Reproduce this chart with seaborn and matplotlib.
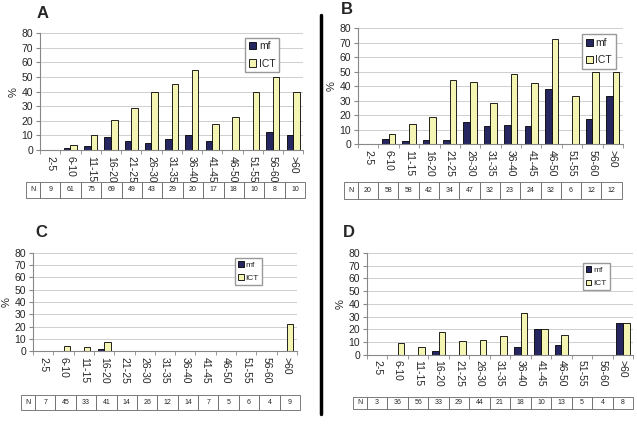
import numpy as np
import pandas as pd
import matplotlib
matplotlib.use("Agg")
import matplotlib.pyplot as plt
from matplotlib.lines import Line2D
import seaborn as sns

age_groups = ["2-5", "6-10", "11-15", "16-20", "21-25", "26-30", "31-35",
              "36-40", "41-45", "46-50", "51-55", "56-60", ">60"]

# panel A
a_mf = [0, 1.5, 3, 9, 6.5, 5, 7.5, 10.5, 6, 0, 0, 12.5, 10]
a_ict = [0, 3.5, 10, 20.5, 29, 40, 45, 55, 17.5, 22.5, 40, 50, 40]
a_n = [9, 61, 75, 69, 49, 43, 29, 20, 17, 18, 10, 8, 10]

# panel B
b_mf = [0, 3.5, 2, 2.5, 3, 15, 12.5, 13, 12.5, 38, 0, 17, 33]
b_ict = [0, 7, 13.5, 19, 44, 43, 28, 48, 42, 72.5, 33, 50, 50]
b_n = [20, 58, 58, 42, 34, 47, 32, 23, 24, 32, 6, 12, 12]

# panel C
c_mf = [0, 0, 0, 2, 0, 0, 0, 0, 0, 0, 0, 0, 0]
c_ict = [0, 4, 3, 7, 0, 0, 0, 0, 0, 0, 0, 0, 22]
c_n = [7, 45, 33, 41, 14, 26, 12, 14, 7, 5, 6, 4, 9]

# panel D
d_mf = [0, 0, 0, 3, 0, 0, 0, 6, 20, 8, 0, 0, 25]
d_ict = [0, 9, 6, 18, 11, 12, 14.5, 33, 20, 15.5, 0, 0, 25]
d_n = [3, 36, 56, 33, 29, 44, 21, 18, 10, 13, 5, 4, 8]

sns.set_style("white")
plt.rcParams['font.family'] = ['Liberation Sans', 'DejaVu Sans']

palette = {"mf": "#1c1c6b", "ICT": "#ffffa8"}

fig = plt.figure(figsize=(6.37, 4.25), dpi=100)

# (label, mf, ict, n, axes rect, table rect, legend anchor, label pos, legend font)
panels = [
    ("A", a_mf, a_ict, a_n, [0.063, 0.647, 0.413, 0.275], [0.041, 0.534, 0.438, 0.038],
     (0.78, 0.96), (0.058, 0.985), 7.5),
    ("B", b_mf, b_ict, b_n, [0.562, 0.661, 0.416, 0.273], [0.540, 0.532, 0.436, 0.040],
     (0.845, 0.945), (0.535, 0.995), 7.5),
    ("C", c_mf, c_ict, c_n, [0.052, 0.174, 0.414, 0.231], [0.033, 0.035, 0.438, 0.035],
     (0.765, 0.95), (0.055, 0.47), 6),
    ("D", d_mf, d_ict, d_n, [0.576, 0.165, 0.418, 0.240], [0.554, 0.038, 0.440, 0.028],
     (0.81, 0.90), (0.538, 0.47), 6),
]

for label, mf, ict, n, rect, trect, lanchor, lpos, lfs in panels:
    ax = fig.add_axes(rect)
    df = pd.DataFrame({
        "age": age_groups * 2,
        "pct": mf + ict,
        "series": ["mf"] * len(mf) + ["ICT"] * len(ict),
    })
    sns.barplot(data=df, x="age", y="pct", hue="series", order=age_groups,
                hue_order=["mf", "ICT"], palette=palette, width=0.65,
                edgecolor="black", linewidth=0.6, ax=ax)
    ax.set_ylim(0, 80)
    ax.set_xlim(-0.5, len(age_groups) - 0.5)
    ax.set_yticks(np.arange(0, 81, 10))
    ax.yaxis.grid(True, color="#c8c8c8", linewidth=0.6)
    ax.set_axisbelow(True)
    for s in ["top", "right"]:
        ax.spines[s].set_visible(False)
    for s in ["left", "bottom"]:
        ax.spines[s].set_color("#888888")
        ax.spines[s].set_linewidth(0.8)
    ax.tick_params(axis="y", labelsize=7.5, length=3, color="#888888", left=True, pad=2)
    ax.tick_params(axis="x", labelsize=7.5, length=0, pad=4)
    ax.set_xticks(np.arange(len(age_groups)))
    ax.set_xticklabels(age_groups, rotation=270, ha="center", va="top")
    ax.set_xticks(np.arange(len(age_groups) + 1) - 0.5, minor=True)
    ax.tick_params(axis="x", which="minor", length=3, color="#888888", bottom=True)
    ax.set_xlabel("")
    ax.set_ylabel("%", fontsize=8, labelpad=2)

    handles, labels = ax.get_legend_handles_labels()
    ax.legend(handles, labels, loc="upper left", bbox_to_anchor=lanchor,
              frameon=True, fancybox=False, edgecolor="#999999", framealpha=1,
              fontsize=lfs, handlelength=0.7, handleheight=0.7,
              handletextpad=0.25, labelspacing=0.7, borderpad=0.35,
              borderaxespad=0)

    # N table
    tax = fig.add_axes(trect)
    tax.axis("off")
    cell_text = [["N"] + [str(v) for v in n]]
    first_w = 0.05
    widths = [first_w] + [(1 - first_w) / len(n)] * len(n)
    tbl = tax.table(cellText=cell_text, colWidths=widths, bbox=[0, 0, 1, 1],
                    cellLoc="center")
    tbl.auto_set_font_size(False)
    tbl.set_fontsize(5)
    for cell in tbl.get_celld().values():
        cell.set_edgecolor("#666666")
        cell.set_linewidth(0.6)

    fig.text(lpos[0], lpos[1], label, fontsize=12, fontweight="bold",
             ha="left", va="top")

fig.add_artist(Line2D([0.504, 0.504], [0.025, 0.965], color="black",
                      linewidth=2.5, transform=fig.transFigure))

fig.savefig("out.png", dpi=100)
